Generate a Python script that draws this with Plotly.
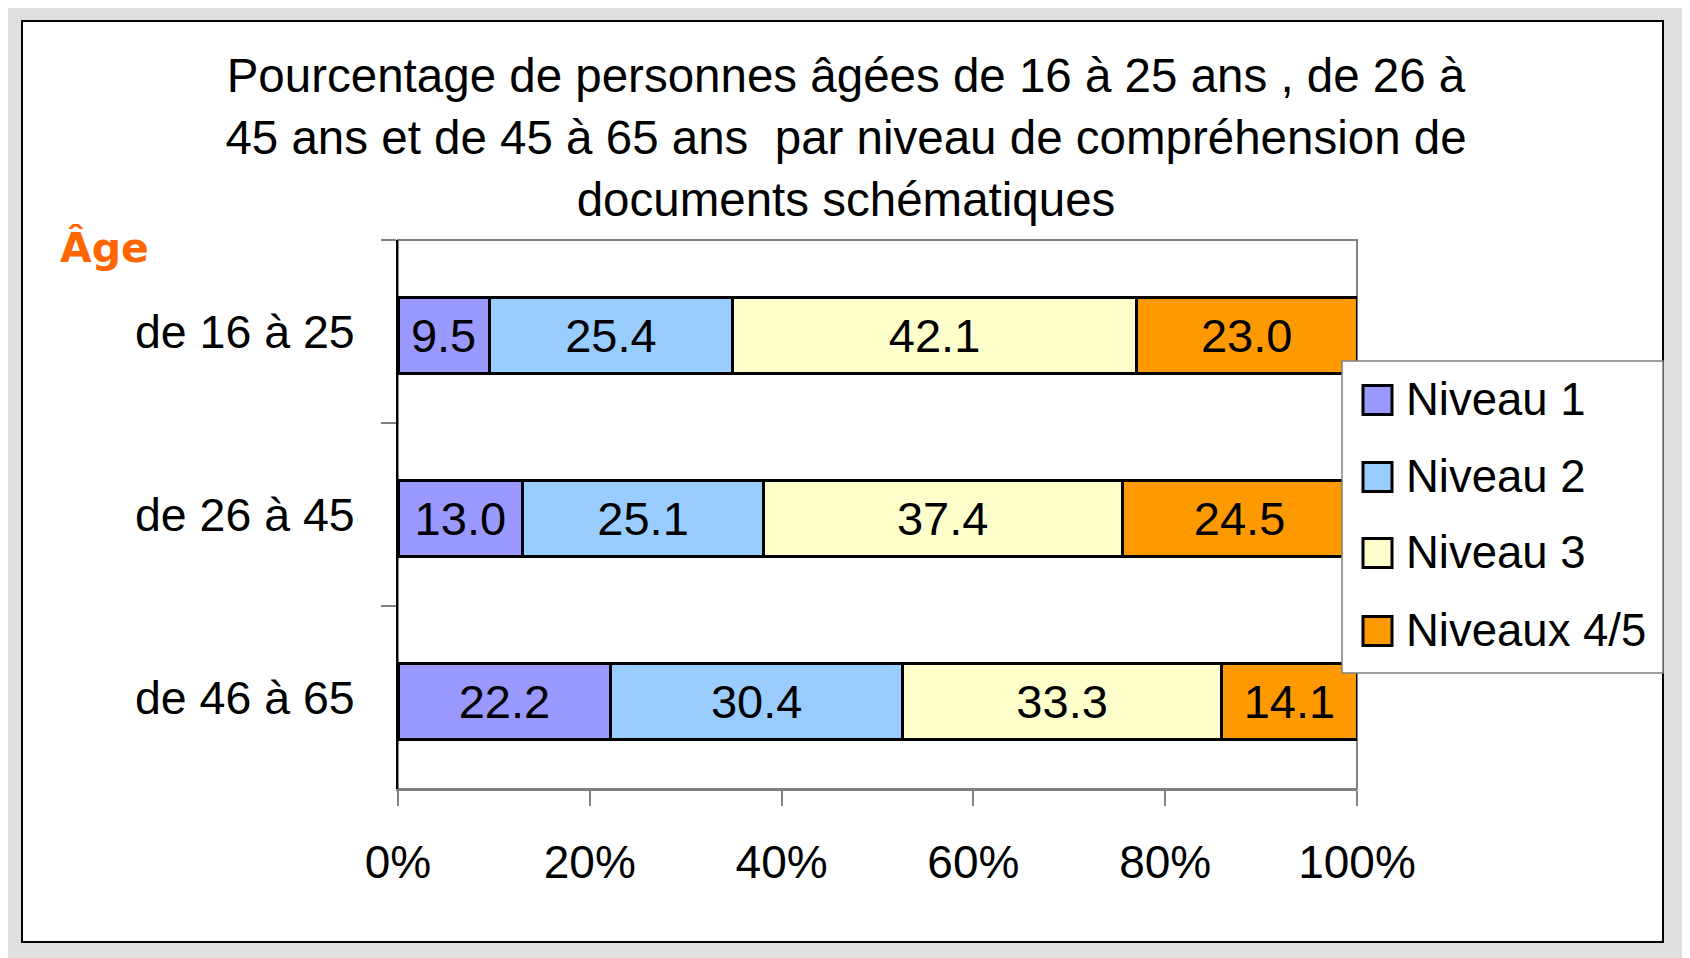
import plotly.graph_objects as go

# ---------------- data ----------------
categories = ["de 16 à 25", "de 26 à 45", "de 46 à 65"]
series_names = ["Niveau 1", "Niveau 2", "Niveau 3", "Niveaux 4/5"]
niveau1 = [9.5, 13.0, 22.2]
niveau2 = [25.4, 25.1, 30.4]
niveau3 = [42.1, 37.4, 33.3]
niveau45 = [23.0, 24.5, 14.1]
series_values = [niveau1, niveau2, niveau3, niveau45]
colors = ["#9999FF", "#99CCFF", "#FFFFCC", "#FF9900"]
x_ticks = [0, 20, 40, 60, 80, 100]
x_tick_labels = ["0%", "20%", "40%", "60%", "80%", "100%"]
title_lines = [
    "Pourcentage de personnes âgées de 16 à 25 ans , de 26 à",
    "45 ans et de 45 à 65 ans  par niveau de compréhension de",
    "documents schématiques",
]
axis_title = "Âge"

# ---------------- geometry ----------------
OFF = 8                     # page body margin
W, H = 1690 - OFF, 958 - OFF
# plot area in reference page pixels
RL, RR, RT, RB = 398, 1357, 240, 789
L, R, T, B = RL - OFF, RR - OFF, RT - OFF, RB - OFF
FONT = "Liberation Sans, Arial, sans-serif"
BAR_W = 0.41
BAR_SHIFT = 4 / 183


def px(x):
    """reference page x -> paper x"""
    return (x - OFF - L) / (R - L)


def py(y):
    """reference page y -> paper y"""
    return (B - (y - OFF)) / (B - T)


fig = go.Figure()
for name, vals, col in zip(series_names, series_values, colors):
    fig.add_trace(go.Bar(
        y=categories, x=vals, orientation="h", name=name,
        width=BAR_W, offset=-BAR_W / 2 + BAR_SHIFT,
        marker=dict(color=col, line=dict(color="black", width=3)),
        texttemplate="%{x:.1f}", textposition="inside",
        insidetextanchor="middle", constraintext="none",
        textfont=dict(size=47, color="black", family=FONT),
        showlegend=False, hoverinfo="skip",
    ))

shapes = [
    # outer grey frame
    dict(type="rect", xref="paper", yref="paper", x0=px(OFF - 2), x1=px(1700),
         y0=py(970), y1=py(OFF - 2), fillcolor="#E0E0E0", line=dict(width=0), layer="below"),
    # white chart area
    dict(type="rect", xref="paper", yref="paper", x0=px(22), x1=px(1663),
         y0=py(942), y1=py(21), fillcolor="white", line=dict(color="black", width=2), layer="below"),
    # plot border
    dict(type="rect", xref="paper", yref="paper", x0=0, x1=1, y0=0, y1=1,
         line=dict(color="#808080", width=2), layer="below"),
    # legend box
    dict(type="rect", xref="paper", yref="paper", x0=px(1342), x1=px(1663),
         y0=py(673), y1=py(361), fillcolor="white", line=dict(color="#808080", width=1.5), layer="above"),
]

annotations = [
    dict(text=axis_title, xref="paper", yref="paper", x=px(58), y=py(248),
         xanchor="left", yanchor="middle", showarrow=False,
         font=dict(size=41, color="#FF6600", family="DejaVu Sans, sans-serif", weight="bold")),
]

leg_y = [400, 477, 553, 631]
for name, col, yc in zip(series_names, colors, leg_y):
    shapes.append(dict(type="rect", xref="paper", yref="paper",
                       x0=px(1363), x1=px(1392), y0=py(yc + 14.5), y1=py(yc - 14.5),
                       fillcolor=col, line=dict(color="black", width=3), layer="above"))
    annotations.append(dict(text=name, xref="paper", yref="paper", x=px(1404), y=py(yc - 1),
                            xanchor="left", yanchor="middle", showarrow=False,
                            font=dict(size=45.5, color="black", family=FONT)))

fig.update_layout(
    width=W, height=H,
    margin=dict(l=L, r=W - R, t=T, b=H - B, pad=0),
    paper_bgcolor="white", plot_bgcolor="rgba(0,0,0,0)",
    barmode="stack",
    title=dict(text="<br>".join(title_lines), x=(846 - OFF) / W, xanchor="center",
               y=1 - 84 / H, yanchor="top", xref="container", yref="container",
               font=dict(size=47.5, color="black", family=FONT)),
    xaxis=dict(range=[0, 100], tickmode="array", tickvals=x_ticks, ticktext=x_tick_labels,
               ticks="outside", ticklen=15, tickwidth=2, tickcolor="#808080",
               showline=True, linecolor="#808080", linewidth=2,
               showgrid=False, zeroline=False, ticklabelstandoff=17,
               tickfont=dict(size=46, color="black", family=FONT)),
    yaxis=dict(categoryorder="array", categoryarray=categories, autorange="reversed",
               ticks="outside", tickson="boundaries", ticklen=15, tickwidth=2,
               tickcolor="#808080", showline=True, linecolor="black", linewidth=2,
               showgrid=False, zeroline=False, ticklabelstandoff=32,
               tickfont=dict(size=46.5, color="black", family=FONT)),
    shapes=shapes, annotations=annotations,
    showlegend=False,
)

fig.write_html("out.html")
